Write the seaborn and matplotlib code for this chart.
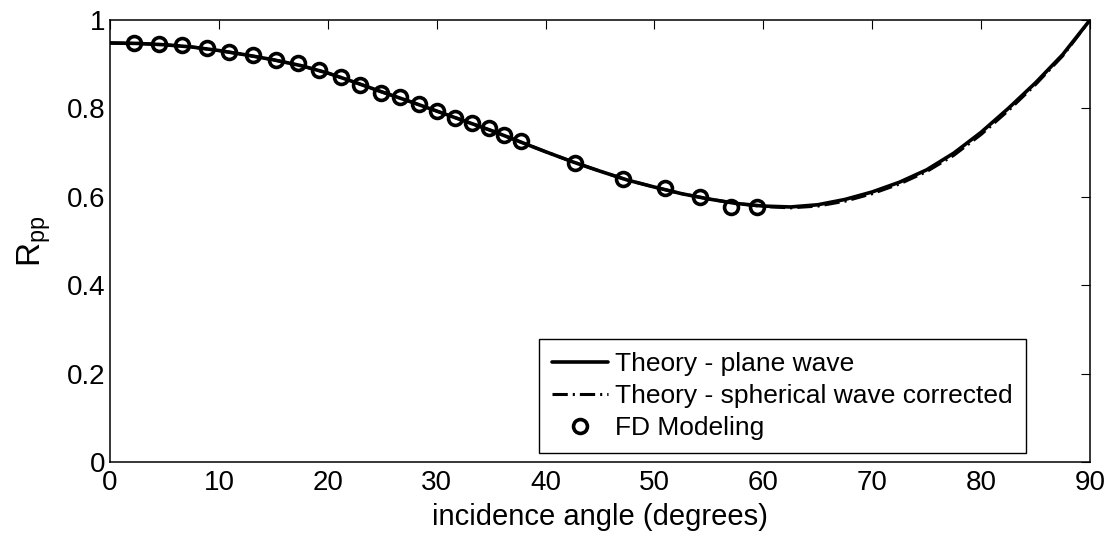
import matplotlib
matplotlib.use("Agg")
import matplotlib.pyplot as plt
import seaborn as sns
import pandas as pd

# ---- data ----
theory_angle = [0, 2.5, 5, 7.5, 10, 12.5, 15, 17.5, 20, 22.5, 25, 27.5, 30, 32.5, 35,
                37.5, 40, 42.5, 45, 47.5, 50, 52.5, 55, 57.5, 60, 62.5, 65, 67.5, 70,
                72.5, 75, 77.5, 80, 82.5, 85, 87.5, 90]
plane_R = [0.948, 0.947, 0.944, 0.939, 0.931, 0.921, 0.910, 0.897, 0.880, 0.859, 0.837,
           0.816, 0.794, 0.772, 0.750, 0.726, 0.702, 0.679, 0.658, 0.638, 0.622, 0.607,
           0.595, 0.585, 0.579, 0.577, 0.582, 0.594, 0.611, 0.633, 0.661, 0.699, 0.746,
           0.800, 0.858, 0.922, 1.000]
spherical_R = [0.948, 0.947, 0.944, 0.939, 0.931, 0.921, 0.910, 0.897, 0.880, 0.859, 0.837,
               0.816, 0.794, 0.772, 0.750, 0.726, 0.702, 0.679, 0.658, 0.638, 0.622, 0.607,
               0.595, 0.585, 0.578, 0.575, 0.579, 0.590, 0.607, 0.629, 0.657, 0.694, 0.741,
               0.795, 0.854, 0.919, 1.000]
fd_angle = [2.2, 4.5, 6.6, 8.9, 10.9, 13.1, 15.2, 17.3, 19.2, 21.2, 23.0, 24.9, 26.6,
            28.4, 30.0, 31.7, 33.2, 34.8, 36.2, 37.7, 42.7, 47.1, 51.0, 54.2, 57.0, 59.4]
fd_R = [0.949, 0.946, 0.943, 0.936, 0.927, 0.921, 0.910, 0.902, 0.887, 0.872, 0.853,
        0.834, 0.826, 0.810, 0.793, 0.778, 0.766, 0.755, 0.740, 0.726, 0.676, 0.640,
        0.619, 0.599, 0.578, 0.578]
x_ticks = [0, 10, 20, 30, 40, 50, 60, 70, 80, 90]
y_ticks = [0, 0.2, 0.4, 0.6, 0.8, 1.0]
y_ticklabels = ["0", "0.2", "0.4", "0.6", "0.8", "1"]

sns.set_style("white")
plt.rcParams["font.family"] = ["Liberation Sans", "DejaVu Sans"]
plt.rcParams["mathtext.fontset"] = "custom"
plt.rcParams["mathtext.rm"] = "Liberation Sans"
plt.rcParams["mathtext.it"] = "Liberation Sans"
plt.rcParams["lines.scale_dashes"] = False
plt.rcParams["text.color"] = "black"
plt.rcParams["axes.labelcolor"] = "black"

fig = plt.figure(figsize=(11.14, 5.36), dpi=100)
ax = fig.add_axes([110 / 1114, 74 / 536, 980 / 1114, 442 / 536])

df_th = pd.DataFrame({"angle": theory_angle, "plane": plane_R, "sph": spherical_R})
df_fd = pd.DataFrame({"angle": fd_angle, "R": fd_R})

sns.lineplot(data=df_th, x="angle", y="plane", ax=ax, color="black", lw=2.6,
             label="Theory - plane wave", sort=False)
sns.lineplot(data=df_th, x="angle", y="sph", ax=ax, color="black", lw=2.2,
             linestyle=(0, (11, 3.6, 1.5, 3.6)),
             label="Theory - spherical wave corrected", sort=False)
ax.plot(df_fd["angle"], df_fd["R"], linestyle="none", marker="o", ms=10,
        mfc="none", mec="black", mew=2.6, label="FD Modeling")

ax.set_xlim(0, 90)
ax.set_ylim(0, 1)
ax.set_xticks(x_ticks)
ax.set_xticklabels([str(t) for t in x_ticks])
ax.set_yticks(y_ticks)
ax.set_yticklabels(y_ticklabels)
ax.tick_params(axis="x", pad=6)
ax.tick_params(direction="in", length=6.5, width=0.8, top=True, right=True,
               labelsize=20, colors="black")
for s in ax.spines.values():
    s.set_visible(True)
    s.set_color("black")
    s.set_linewidth(1.1)

ax.set_xlabel("incidence angle (degrees)", fontsize=21, labelpad=5, color="black")
ax.set_ylabel(r"$\mathregular{R_{pp}}$", fontsize=24, labelpad=10, color="black")

leg = ax.legend(loc="lower right", bbox_to_anchor=(0.935, 0.02), fontsize=19,
                frameon=True, fancybox=False, edgecolor="black", framealpha=1,
                handlelength=2.1, handletextpad=0.3, borderpad=0.5,
                labelspacing=0.3, borderaxespad=0.0)
leg.get_frame().set_linewidth(1.0)
for t in leg.get_texts():
    t.set_color("black")

fig.savefig("out.png", dpi=100)
